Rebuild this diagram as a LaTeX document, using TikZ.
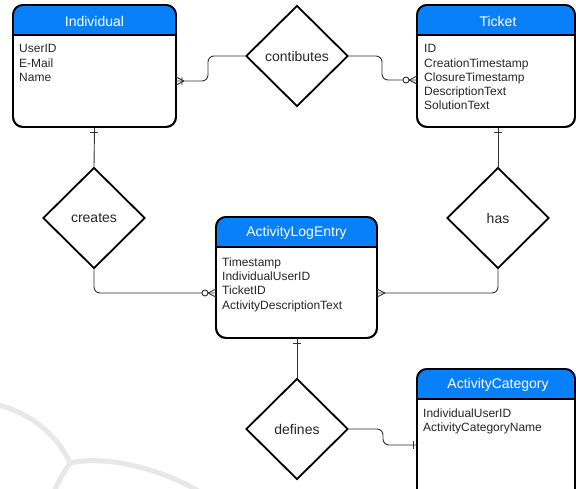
\documentclass[tikz,border=0pt]{standalone}
\usepackage{fontspec}
\setmainfont{Liberation Sans}
\usetikzlibrary{shapes.geometric,calc}
\definecolor{hdr}{RGB}{8,128,250}
\definecolor{conncol}{RGB}{50,50,50}
\definecolor{wm}{RGB}{232,232,232}
\tikzset{
  entity/.style={draw=black, line width=1.8pt, fill=white, rounded corners=10pt, inner sep=0pt},
  rel/.style={draw=black, line width=1.8pt, fill=white, diamond, inner sep=0pt, minimum width=102pt, minimum height=101pt, font=\fontsize{14}{16}\selectfont, text=black!85},
  hdrtext/.style={text=white, font=\fontsize{14}{16}\selectfont, inner sep=0pt},
  attr/.style={anchor=north west, align=left, inner sep=0pt, font=\fontsize{12}{14.2}\selectfont, text=black!85},
  conn/.style={draw=conncol, line width=0.9pt, rounded corners=6pt},
  ermark/.style={draw=conncol, line width=0.9pt},
}
\newcommand{\entbox}[5]{% name, left, top, right, bottom
  \pgfmathsetmacro\entw{#4-#2}%
  \pgfmathsetmacro\enth{#5-#3}%
  \node[entity, minimum width=\entw pt, minimum height=\enth pt] (#1) at ({(#2+#4)/2},{(#3+#5)/2}) {};
  \begin{scope}
    \clip[rounded corners=10pt] (#2,#3) rectangle (#4,#5);
    \fill[hdr] (#2,#3) rectangle (#4,#3+30);
  \end{scope}
  \draw[black, line width=1.8pt] (#2,#3+30) -- (#4,#3+30);
  \draw[black, line width=1.8pt, rounded corners=10pt] (#2,#3) rectangle (#4,#5);
}
\begin{document}
\begin{tikzpicture}[x=1pt,y=-1pt]
\useasboundingbox (0,0) rectangle (576,488);
\fill[white] (0,0) rectangle (576,488);
% watermark
\draw[wm, line width=5pt] (-2,405) .. controls (35,414) and (60,440) .. (70,463);
\draw[wm, line width=5pt] (70,463) .. controls (105,455) and (160,468) .. (200,492);
\draw[wm, line width=5pt] (70,463) .. controls (64,472) and (58,482) .. (54,492);

% entities
\entbox{ind}{13}{5}{176}{127}
\entbox{tic}{417}{5}{575}{127}
\entbox{ale}{216}{217}{377}{338}
\entbox{cat}{417}{369}{575}{505}

\node[hdrtext] (indh) at (94.5,21) {Individual};
\node[hdrtext] (tich) at (498,21) {Ticket};
\node[hdrtext] (aleh) at (296.5,233) {ActivityLogEntry};
\node[hdrtext] (cath) at (498,385) {ActivityCategory};

\node[attr] (inda) at (19,44.5) {UserID\\E-Mail\\Name};
\node[attr] (tica) at (424,44.5) {ID\\CreationTimestamp\\ClosureTimestamp\\DescriptionText\\SolutionText};
\node[attr] (alea) at (222,257.5) {Timestamp\\IndividualUserID\\TicketID\\ActivityDescriptionText};
\node[attr] (cata) at (423,408.5) {IndividualUserID\\ActivityCategoryName};

% relationships
\node[rel] (cont) at (297,56) {contibutes};
\node[rel] (cre) at (94,218) {creates};
\node[rel] (has) at (498,218) {has};
\node[rel] (def) at (297,429) {defines};

% connectors
\coordinate (c1) at (176,81);
\draw[conn] (c1) -- (208,81) -- (208,56) -- (cont.west);
\draw[ermark] (184,81) -- (176,77) (184,81) -- (176,85) (182,77) -- (182,85);

\coordinate (c2) at (417,80);
\draw[conn] (cont.east) -- (382,56) -- (382,80) -- (c2);
\draw[ermark] (409,80) -- (417,76) (409,80) -- (417,84);
\draw[ermark, fill=white] (406,80) circle (3pt);

\draw[conn] (ind.south) -- (cre.north);
\draw[ermark] (90,132) -- (98,132);

\coordinate (c4) at (216,293);
\draw[conn] (cre.south) -- (94,293) -- (c4);
\draw[ermark] (208,293) -- (216,289) (208,293) -- (216,297);
\draw[ermark, fill=white] (205,293) circle (3pt);

\draw[conn] (tic.south -| has.north) -- (has.north);
\draw[ermark] (494,132) -- (502,132);

\coordinate (c6) at (377,293);
\draw[conn] (has.south) -- (498,293) -- (c6);
\draw[ermark] (385,293) -- (377,289) (385,293) -- (377,297);

\draw[conn] (ale.south -| def.north) -- (def.north);
\draw[ermark] (293,343) -- (301,343);

\coordinate (c8) at (417,445);
\draw[conn] (def.east) -- (383,429) -- (383,445) -- (c8);
\draw[ermark] (413,441) -- (413,449);
\end{tikzpicture}
\end{document}
